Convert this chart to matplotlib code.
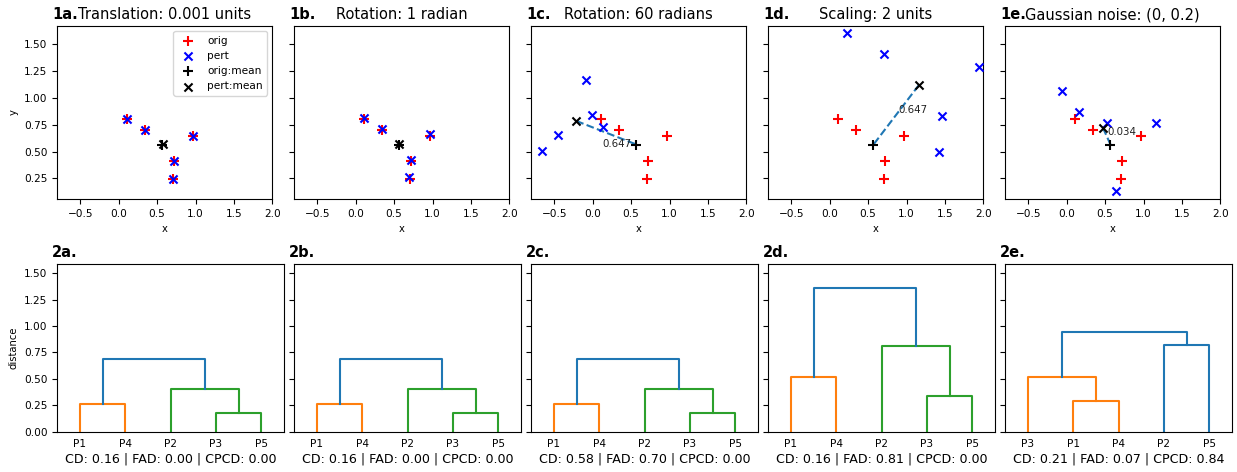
import numpy as np
import matplotlib
matplotlib.use("Agg")
import matplotlib.pyplot as plt

# --- data -------------------------------------------------------------------
panel_ids = ["a", "b", "c", "d", "e"]
titles = ["Translation: 0.001 units", "Rotation: 1 radian", "Rotation: 60 radians",
          "Scaling: 2 units", "Gaussian noise: (0, 0.2)"]

# original points P1..P5
orig_x = [0.11, 0.97, 0.715, 0.345, 0.705]
orig_y = [0.80, 0.645, 0.41, 0.70, 0.245]
orig_mean = (0.57, 0.565)

# perturbed points per panel (P1..P5)
pert_x = [
    [0.111, 0.971, 0.716, 0.346, 0.706],
    [0.105, 0.965, 0.72, 0.34, 0.695],
    [-0.084, -0.015, 0.132, -0.448, -0.662],
    [0.229, 1.938, 1.46, 0.701, 1.421],
    [-0.058, 0.154, 0.528, 1.161, 0.645],
]
pert_y = [
    [0.801, 0.646, 0.411, 0.701, 0.246],
    [0.81, 0.66, 0.425, 0.71, 0.26],
    [1.164, 0.84, 0.731, 0.654, 0.502],
    [1.603, 1.291, 0.834, 1.412, 0.493],
    [1.062, 0.871, 0.769, 0.769, 0.131],
]
pert_mean_x = [0.571, 0.565, -0.214, 1.161, 0.471]
pert_mean_y = [0.566, 0.57, 0.785, 1.12, 0.722]
mean_dist_text = [None, None, "0.647", "0.647", "0.034"]
mean_dist_pos = [None, None, (0.13, 0.57), (0.89, 0.887), (0.534, 0.685)]

# dendrograms: leaf order and merges (child, child, height, colour)
leaf_labels = [
    ["P1", "P4", "P2", "P3", "P5"],
    ["P1", "P4", "P2", "P3", "P5"],
    ["P1", "P4", "P2", "P3", "P5"],
    ["P1", "P4", "P2", "P3", "P5"],
    ["P3", "P1", "P4", "P2", "P5"],
]
merges = [
    [(3, 4, 0.177, "C2"), (0, 1, 0.26, "C1"), (2, 5, 0.408, "C2"), (6, 7, 0.687, "C0")],
    [(3, 4, 0.177, "C2"), (0, 1, 0.26, "C1"), (2, 5, 0.408, "C2"), (6, 7, 0.687, "C0")],
    [(3, 4, 0.177, "C2"), (0, 1, 0.26, "C1"), (2, 5, 0.408, "C2"), (6, 7, 0.687, "C0")],
    [(3, 4, 0.339, "C2"), (0, 1, 0.522, "C1"), (2, 5, 0.81, "C2"), (6, 7, 1.358, "C0")],
    [(1, 2, 0.288, "C1"), (0, 5, 0.522, "C1"), (3, 4, 0.823, "C0"), (6, 7, 0.94, "C0")],
]
cd = [0.16, 0.16, 0.58, 0.16, 0.21]
fad = [0.00, 0.00, 0.70, 0.81, 0.07]
cpcd = [0.00, 0.00, 0.00, 0.00, 0.84]

# --- figure -----------------------------------------------------------------
W, H = 1237, 472
fig = plt.figure(figsize=(W / 100, H / 100), dpi=100)

TICK = 7.6
TITLE = 10.5


def px_axes(left, top, width, height):
    return fig.add_axes([left / W, 1 - (top + height) / H, width / W, height / H])


def panel_tag(ax, text):
    ax.annotate(text, xy=(0, 1), xycoords="axes fraction", xytext=(-5, 7),
                textcoords="offset pixels", fontsize=TITLE, fontweight="bold",
                ha="left", va="baseline")


top_axes = []
bot_axes = []
for i in range(5):
    left = 57.3 + 237 * i
    top_axes.append(px_axes(left, 26, 215, 173))
    bot_axes.append(px_axes(left, 264.3, 226.7, 167.4))

for i, ax in enumerate(top_axes):
    ax.scatter(orig_x, orig_y, marker="+", c="red", s=42, label="orig", zorder=2)
    ax.scatter(pert_x[i], pert_y[i], marker="x", c="blue", s=34, label="pert", zorder=3)
    if mean_dist_text[i]:
        ax.plot([pert_mean_x[i], orig_mean[0]], [pert_mean_y[i], orig_mean[1]],
                ls="--", color="C0", lw=1.5, zorder=1)
        tx, ty = mean_dist_pos[i]
        ax.text(tx, ty, mean_dist_text[i], fontsize=7.4, ha="left", va="center",
                color="#222222", zorder=5)
    ax.scatter([orig_mean[0]], [orig_mean[1]], marker="+", c="black", s=42,
               label="orig:mean", zorder=4)
    ax.scatter([pert_mean_x[i]], [pert_mean_y[i]], marker="x", c="black", s=34,
               label="pert:mean", zorder=4)
    ax.set_xlim(-0.8, 2.0)
    ax.set_ylim(0.057, 1.671)
    ax.set_xticks(np.arange(-0.5, 2.01, 0.5))
    ax.set_yticks([0.25, 0.5, 0.75, 1.0, 1.25, 1.5])
    ax.tick_params(labelsize=TICK)
    ax.set_xlabel("x", fontsize=7.2)
    if i == 0:
        ax.set_ylabel("y", fontsize=7.2)
        ax.legend(loc="upper right", fontsize=7.6)
    else:
        ax.tick_params(labelleft=False)
    ax.set_title(titles[i], fontsize=TITLE, pad=5)
    panel_tag(ax, f"1{panel_ids[i]}.")

for i, ax in enumerate(bot_axes):
    xs = [5 + 10 * k for k in range(5)]
    hs = [0.0] * 5
    for a, b, h, col in merges[i]:
        ax.plot([xs[a], xs[a], xs[b], xs[b]], [hs[a], h, h, hs[b]], color=col, lw=1.5)
        xs.append((xs[a] + xs[b]) / 2)
        hs.append(h)
    ax.set_xlim(0, 50)
    ax.set_ylim(0, 1.585)
    ax.set_xticks([5 + 10 * k for k in range(5)])
    ax.set_xticklabels(leaf_labels[i])
    ax.tick_params(axis="x", length=0, labelsize=TICK, pad=5)
    ax.tick_params(axis="y", labelsize=TICK)
    ax.set_yticks([0, 0.25, 0.5, 0.75, 1.0, 1.25, 1.5])
    if i == 0:
        ax.set_ylabel("distance", fontsize=7.2)
    else:
        ax.tick_params(labelleft=False)
    ax.set_xlabel(f"CD: {cd[i]:.2f} | FAD: {fad[i]:.2f} | CPCD: {cpcd[i]:.2f}",
                  fontsize=9.1, labelpad=3)
    panel_tag(ax, f"2{panel_ids[i]}.")

fig.savefig("out.png", dpi=100)
